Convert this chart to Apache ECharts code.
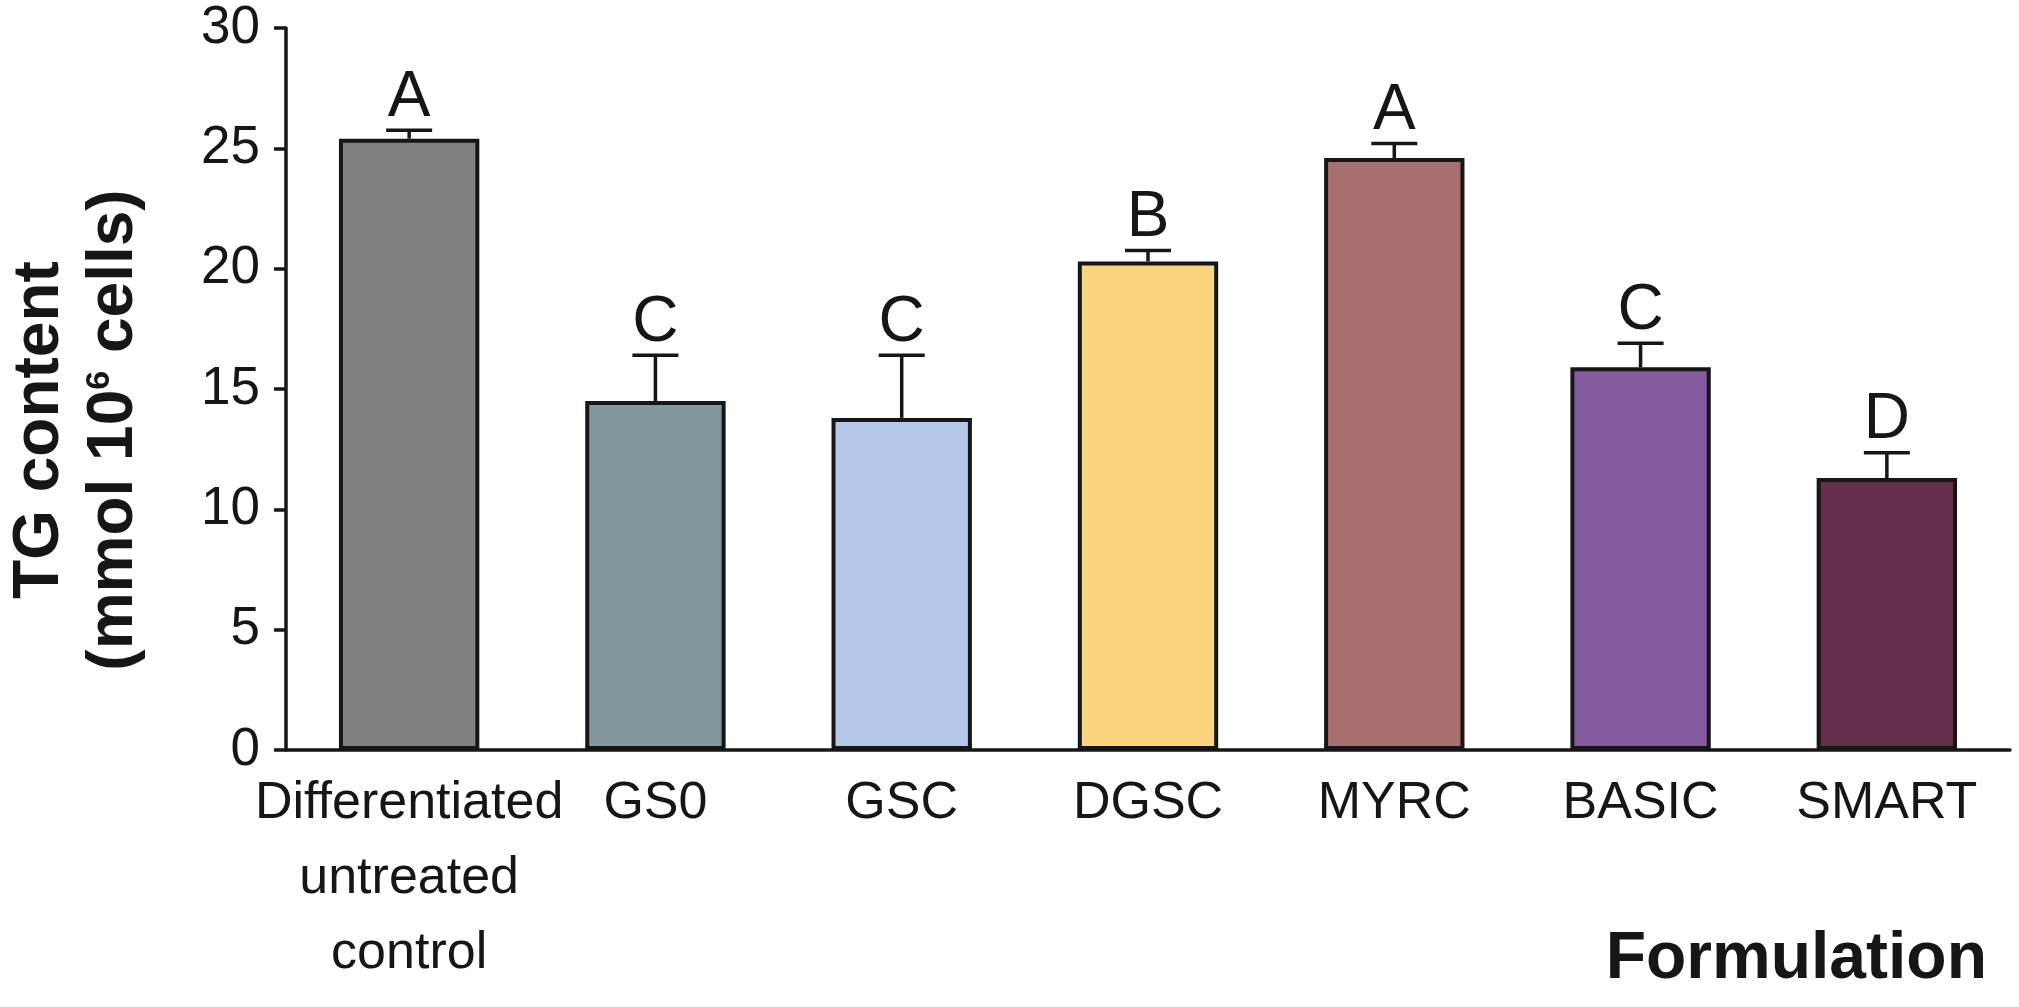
<!DOCTYPE html>
<html lang="en">
<head>
    <meta charset="UTF-8">
    <title>TG content by formulation</title>
    <script src="https://cdn.jsdelivr.net/npm/echarts@6/dist/echarts.min.js"></script>
    <style>
        html, body { margin: 0; padding: 0; background: #fff; }
        #chart { width: 2019px; height: 1007px; }
    </style>
</head>
<body>
<div id="chart"></div>
<script>
    // data
    const categories = ['Differentiated\nuntreated\ncontrol', 'GS0', 'GSC', 'DGSC', 'MYRC', 'BASIC', 'SMART'];
    const means = [25.4, 14.5, 13.8, 20.3, 24.6, 15.9, 11.3];
    const errors = [0.35, 1.9, 2.6, 0.45, 0.6, 1.0, 1.05];
    const letters = ['A', 'C', 'C', 'B', 'A', 'C', 'D'];
    const barColors = ['#808080', '#83979e', '#b4c8ea', '#fad47f', '#a96f6e', '#8359a0', '#652f4c'];
    const yMin = 0, yMax = 30, yStep = 5;

    const FONT = '"Liberation Sans", Arial, Helvetica, sans-serif';
    const INK = '#161616';

    const chart = echarts.init(document.getElementById('chart'));

    const option = {
        backgroundColor: '#fff',
        animation: false,
        grid: { left: 283, right: 9, top: 28, bottom: 257, containLabel: false },
        xAxis: {
            type: 'category',
            data: categories,
            axisLine: { lineStyle: { color: INK, width: 3.5 } },
            axisTick: { show: false },
            axisLabel: {
                interval: 0,
                margin: 16,
                color: INK,
                fontFamily: FONT,
                fontSize: 52,
                lineHeight: 75
            }
        },
        yAxis: {
            type: 'value',
            min: yMin,
            max: yMax,
            interval: yStep,
            splitLine: { show: false },
            axisLine: { show: true, lineStyle: { color: INK, width: 3.5 } },
            axisTick: { show: true, length: 12, lineStyle: { color: INK, width: 3.5 } },
            axisLabel: { color: INK, fontFamily: FONT, fontSize: 53, margin: 26 },
            name: '{b|TG content}\n{b|(mmol 10}{sup|6}{b| cells)}',
            nameLocation: 'middle',
            nameRotate: 90,
            nameGap: 135,
            nameTextStyle: {
                padding: [0, 82, 0, 0],
                rich: {
                    b: { fontFamily: FONT, fontWeight: 'bold', fontSize: 64, color: INK, lineHeight: 74 },
                    sup: { fontFamily: FONT, fontWeight: 'bold', fontSize: 34, color: INK, lineHeight: 74, verticalAlign: 'top', padding: [6, 0, 0, 0] }
                }
            }
        },
        graphic: [{
            type: 'text',
            right: 32,
            bottom: 14,
            style: {
                text: 'Formulation',
                fontFamily: FONT,
                fontWeight: 'bold',
                fontSize: 66,
                fill: INK
            }
        }],
        series: [
            {
                type: 'bar',
                barWidth: '57%',
                data: means.map((v, i) => ({
                    value: v,
                    itemStyle: { color: barColors[i], borderColor: INK, borderWidth: 4 }
                })),
                z: 2
            },
            {
                // upper error bars
                type: 'custom',
                z: 3,
                data: means.map((v, i) => [i, v, v + errors[i]]),
                renderItem: function (params, api) {
                    const base = api.coord([api.value(0), api.value(1)]);
                    const top = api.coord([api.value(0), api.value(2)]);
                    const half = 23;
                    const style = { stroke: INK, lineWidth: 3.5 };
                    return {
                        type: 'group',
                        children: [
                            { type: 'line', shape: { x1: base[0], y1: base[1], x2: top[0], y2: top[1] }, style },
                            { type: 'line', shape: { x1: top[0] - half, y1: top[1], x2: top[0] + half, y2: top[1] }, style }
                        ]
                    };
                }
            },
            {
                // significance letters
                type: 'scatter',
                symbolSize: 0,
                z: 4,
                itemStyle: { opacity: 1 },
                data: means.map((v, i) => [i, v + errors[i]]),
                label: {
                    show: true,
                    position: 'top',
                    distance: 0,
                    formatter: p => letters[p.dataIndex],
                    color: INK,
                    opacity: 1,
                    fontFamily: FONT,
                    fontSize: 64
                }
            }
        ]
    };

    chart.setOption(option);
</script>
</body>
</html>
